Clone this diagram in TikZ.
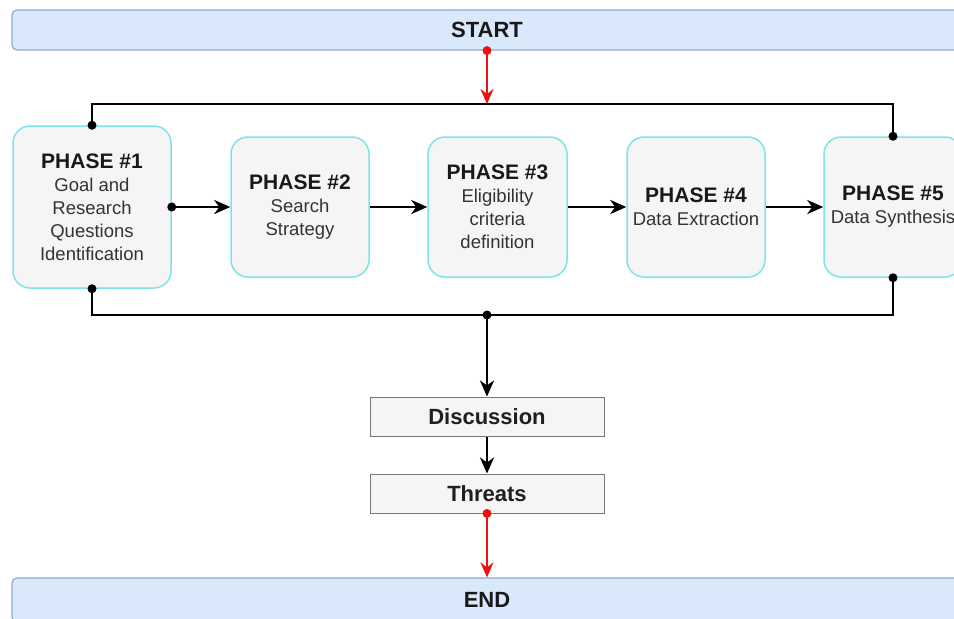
\documentclass[tikz,border=0pt]{standalone}
\usepackage{fontspec}
\setmainfont{Liberation Sans}
\usetikzlibrary{arrows.meta}
\definecolor{barfill}{HTML}{DAE8FC}
\definecolor{bardraw}{HTML}{8FA9D1}
\definecolor{boxfill}{HTML}{F5F5F5}
\definecolor{phasedraw}{HTML}{7FE3EE}
\definecolor{graydraw}{HTML}{777777}
\definecolor{txtgray}{HTML}{333333}
\definecolor{redline}{HTML}{EE1111}
\tikzset{
  bar/.style={draw=bardraw, fill=barfill, line width=1.2pt, rounded corners=5pt,
    minimum width=950pt, minimum height=40pt, inner sep=0pt,
    font=\fontsize{22}{26}\selectfont\bfseries, text=black!90},
  phasebox/.style={draw=phasedraw, fill=boxfill, line width=1.5pt, rounded corners=17pt,
    minimum width=138pt, minimum height=140pt, inner sep=0pt, align=center,
    font=\fontsize{18.5}{23}\selectfont, text=txtgray},
  plainbox/.style={draw=graydraw, fill=boxfill, line width=1pt,
    minimum width=234pt, minimum height=39pt, inner sep=0pt,
    font=\fontsize{22}{26}\selectfont\bfseries, text=black!88},
  conn/.style={line width=2.8pt, black},
  arr/.style={conn, -{Stealth[length=16pt, width=14pt, inset=5pt]}},
  redarr/.style={line width=2.2pt, redline, -{Stealth[length=15pt, width=13pt, inset=5pt]}},
  dot/.style={circle, fill=black, inner sep=0pt, minimum size=9pt},
  reddot/.style={circle, fill=redline, inner sep=0pt, minimum size=9pt}
}
\newcommand{\ph}[1]{{\fontsize{21}{23}\selectfont\bfseries\color{black!90}#1}}
\begin{document}
\begin{tikzpicture}[x=1pt, y=-1pt]
\useasboundingbox (0,0) rectangle (954,619);
\fill[white] (0,0) rectangle (954,619);
\clip (0,0) rectangle (954,619);

\node[bar] (start) at (487,30) {START};
\node[bar, minimum height=44pt] (end) at (487,600) {END};

\node[phasebox, minimum width=158pt, minimum height=162pt] (p1) at (92,207)
  {\ph{PHASE \#1}\\Goal and\\Research\\Questions\\Identification};
\node[phasebox] (p2) at (300,207) {\ph{PHASE \#2}\\Search\\Strategy};
\node[phasebox, minimum width=139pt] (p3) at (497.5,207) {\ph{PHASE \#3}\\Eligibility\\criteria\\definition};
\node[phasebox] (p4) at (696,207) {\ph{PHASE \#4}\\Data Extraction};
\node[phasebox] (p5) at (893,207) {\ph{PHASE \#5}\\Data Synthesis};

\node[plainbox] (disc) at (487,416.5) {Discussion};
\node[plainbox] (thr) at (487,493.5) {Threats};

\coordinate (top) at (487,104);
\coordinate (bot) at (487,315);

% top loop
\draw[conn] (p1.north) |- (top) -| (p5.north);
\node[dot] at (p1.north) {};
\node[dot] at (p5.north) {};
% bottom loop
\draw[conn] (p1.south) |- (bot) -| (p5.south);
\node[dot] at (p1.south) {};
\node[dot] at (p5.south) {};

% start arrow
\draw[redarr] (start.south) -- (top);
\node[reddot] at (start.south) {};

% phase chain
\draw[arr] (p1.east) -- (p2.west);
\node[dot] at (p1.east) {};
\draw[arr] (p2.east) -- (p3.west);
\draw[arr] (p3.east) -- (p4.west);
\draw[arr] (p4.east) -- (p5.west);

% bottom flow
\draw[arr] (bot) -- (disc.north);
\node[dot] at (bot) {};
\draw[arr] (disc.south) -- (thr.north);
\draw[redarr] (thr.south) -- (end.north);
\node[reddot] at (thr.south) {};
\end{tikzpicture}
\end{document}
